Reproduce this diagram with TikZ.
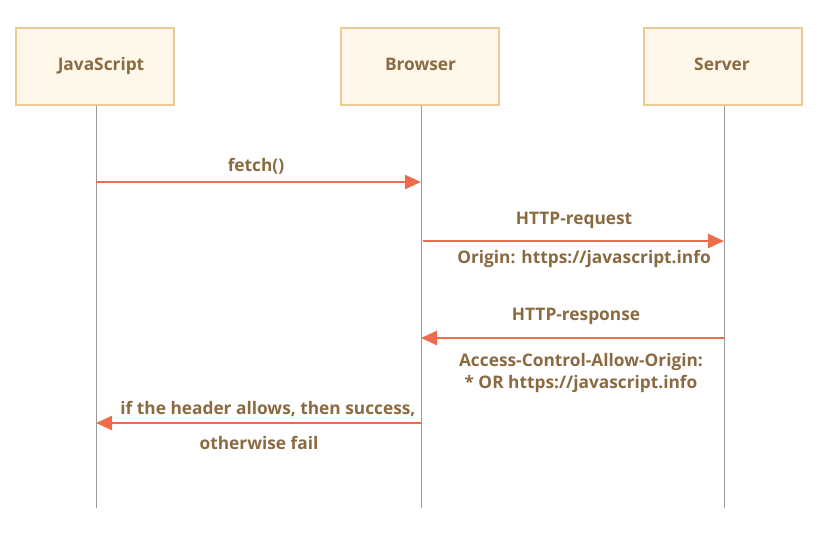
\documentclass[tikz,border=0pt]{standalone}
\usepackage{fontspec}
\setmainfont{Open Sans}
\usetikzlibrary{arrows.meta}
\definecolor{txt}{HTML}{8A6A40}
\definecolor{boxfill}{HTML}{FFF8EA}
\definecolor{boxdraw}{HTML}{EDCA92}
\definecolor{arr}{HTML}{EE6B4B}
\definecolor{life}{HTML}{9A9A9A}
\begin{document}
\begin{tikzpicture}[x=1pt,y=-1pt,
  actor/.style={draw=boxdraw,fill=boxfill,line width=2.2pt,minimum width=158pt,minimum height=77pt,inner sep=0pt},
  actorlbl/.style={font=\bfseries\fontsize{17.3}{20}\selectfont,text=txt,inner sep=0pt,anchor=base},
  msg/.style={draw=arr,line width=2.3pt,-{Triangle[length=16pt,width=14pt]}},
  lbl/.style={font=\bfseries\fontsize{17.3}{22}\selectfont,text=txt,inner sep=0pt,align=center},
  lifeline/.style={draw=life,line width=0.9pt}]
\useasboundingbox (0,0) rectangle (824,541);
\node[actor] (js) at (95,66.5) {};
\node[actor] (br) at (420,66.5) {};
\node[actor] (sv) at (723,66.5) {};
\node[actorlbl] (jsl) at (101,70.5) {JavaScript};
\node[actorlbl] (brl) at (420.5,70.5) {Browser};
\node[actorlbl] (svl) at (722,70.5) {Server};
\coordinate (jsE) at (96,508);
\coordinate (brE) at (421,508);
\coordinate (svE) at (724,508);
\draw[lifeline] (js.south -| jsE) -- (jsE);
\draw[lifeline] (br.south -| brE) -- (brE);
\draw[lifeline] (sv.south -| svE) -- (svE);
% fetch
\coordinate (a1) at (96,182);
\coordinate (b1) at (421,182);
\draw[msg] (a1) -- (b1);
\node[lbl] (t1) at (256,166) {fetch()};
% request
\coordinate (a2) at (423,241);
\coordinate (b2) at (724,241);
\draw[msg] (a2) -- (b2);
\node[lbl] (t2) at (574,220) {HTTP-request};
\node[lbl] (t3) at (584,259) {Origin: https://javascript.info};
% response
\coordinate (a3) at (724,338);
\coordinate (b3) at (421,338);
\draw[msg] (a3) -- (b3);
\node[lbl] (t4) at (576,316) {HTTP-response};
\node[lbl] (t5) at (581,373) {Access-Control-Allow-Origin:\\* OR https://javascript.info};
% result
\coordinate (a4) at (421,423);
\coordinate (b4) at (96,423);
\draw[msg] (a4) -- (b4);
\node[lbl] (t6) at (268,409) {if the header allows, then success,};
\node[lbl] (t7) at (259,443) {otherwise fail};
\end{tikzpicture}
\end{document}
